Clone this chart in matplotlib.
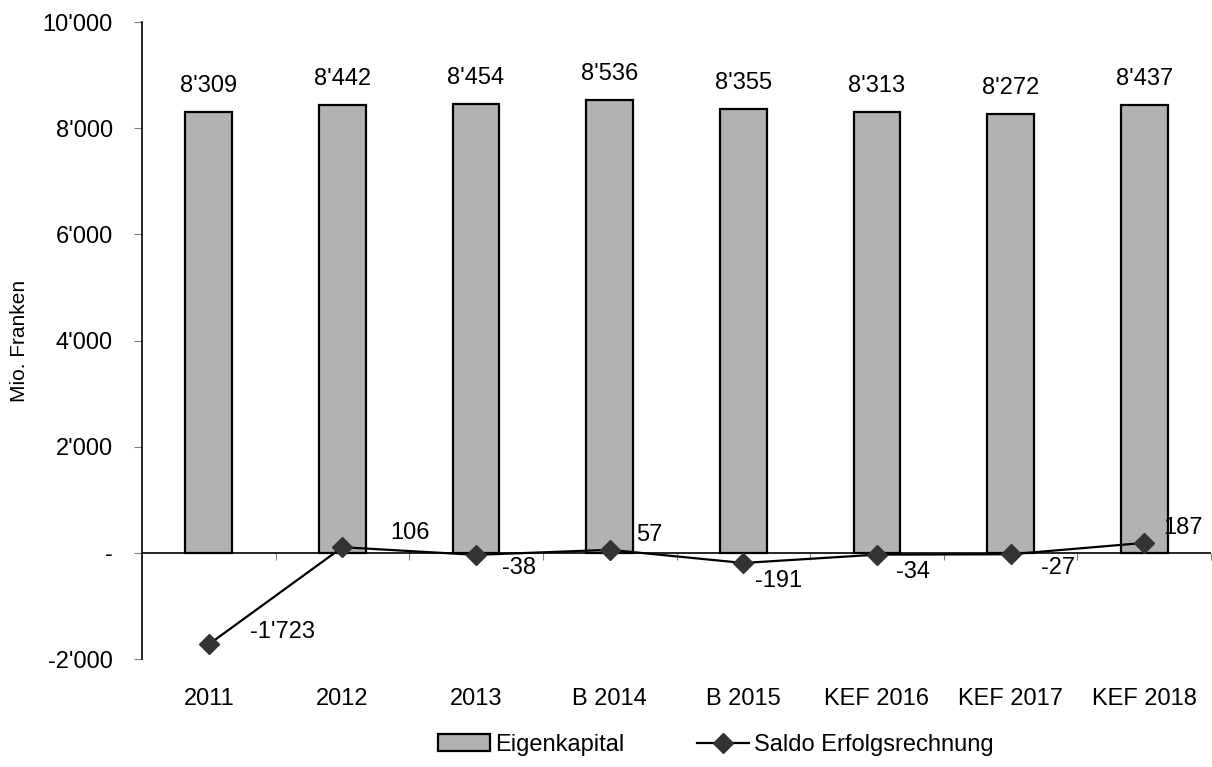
import numpy as np
import matplotlib.pyplot as plt
from matplotlib.ticker import FuncFormatter

plt.rcParams['font.family'] = ['Liberation Sans', 'DejaVu Sans']

jahre = ['2011', '2012', '2013', 'B 2014', 'B 2015', 'KEF 2016', 'KEF 2017', 'KEF 2018']
eigenkapital = [8309, 8442, 8454, 8536, 8355, 8313, 8272, 8437]
saldo = [-1723, 106, -38, 57, -191, -34, -27, 187]

# label offsets for the saldo line (pixels)
saldo_off = [(74, 12), (68, 14), (43, -13), (40, 15), (35, -18), (36, -17), (47, -14), (39, 15)]


def fmt(v):
    if v == 0:
        return '-'
    s = f'{abs(int(round(v))):,}'.replace(',', "'")
    return ('-' if v < 0 else '') + s


fig = plt.figure(figsize=(12.12, 7.67), dpi=100)
ax = fig.add_axes([142 / 1212, 1 - 659 / 767, (1211 - 142) / 1212, (659 - 22) / 767])

x = np.arange(len(jahre))
bars = ax.bar(x, eigenkapital, width=0.35, color='#b2b2b2', edgecolor='black', linewidth=1.6,
              label='Eigenkapital', zorder=2)
line, = ax.plot(x, saldo, color='black', linewidth=1.6, marker='D', markersize=10,
                markerfacecolor='#333333', markeredgecolor='#333333', label='Saldo Erfolgsrechnung', zorder=3)

for xi, v in zip(x, eigenkapital):
    ax.annotate(fmt(v), (xi, v), xytext=(0, 26), textcoords='offset pixels',
                ha='center', va='center', fontsize=17)
for xi, v, off in zip(x, saldo, saldo_off):
    ax.annotate(fmt(v), (xi, v), xytext=off, textcoords='offset pixels',
                ha='center', va='center', fontsize=17)

ax.set_xlim(-0.5, len(jahre) - 0.5)
ax.set_ylim(-2000, 10000)
ax.set_yticks(np.arange(-2000, 10001, 2000))
ax.yaxis.set_major_formatter(FuncFormatter(lambda v, p: fmt(v)))
ax.tick_params(axis='y', labelsize=17, length=6, color='#808080', pad=15)
ax.set_xticks(x)
ax.set_xticklabels(jahre)
ax.tick_params(axis='x', labelsize=17, length=0, pad=21)
ax.set_ylabel('Mio. Franken', fontsize=15, labelpad=10)

for s in ['top', 'right', 'bottom']:
    ax.spines[s].set_visible(False)
ax.spines['left'].set_linewidth(1.2)
ax.axhline(0, color='black', linewidth=1.2, zorder=1)

sec = ax.secondary_xaxis(1 / 6)
sec.set_xticks(np.arange(0.5, len(jahre), 1.0))
sec.set_xticklabels([])
sec.tick_params(length=5, color='#808080', direction='out')
sec.spines['bottom'].set_visible(False)

fig.legend([bars, line], ['Eigenkapital', 'Saldo Erfolgsrechnung'],
           loc='center', bbox_to_anchor=(716 / 1212, 1 - 745 / 767), ncol=2, frameon=False,
           fontsize=17, handlelength=2.2, handletextpad=0.2, columnspacing=3.1)

fig.savefig('out.png', dpi=100)
